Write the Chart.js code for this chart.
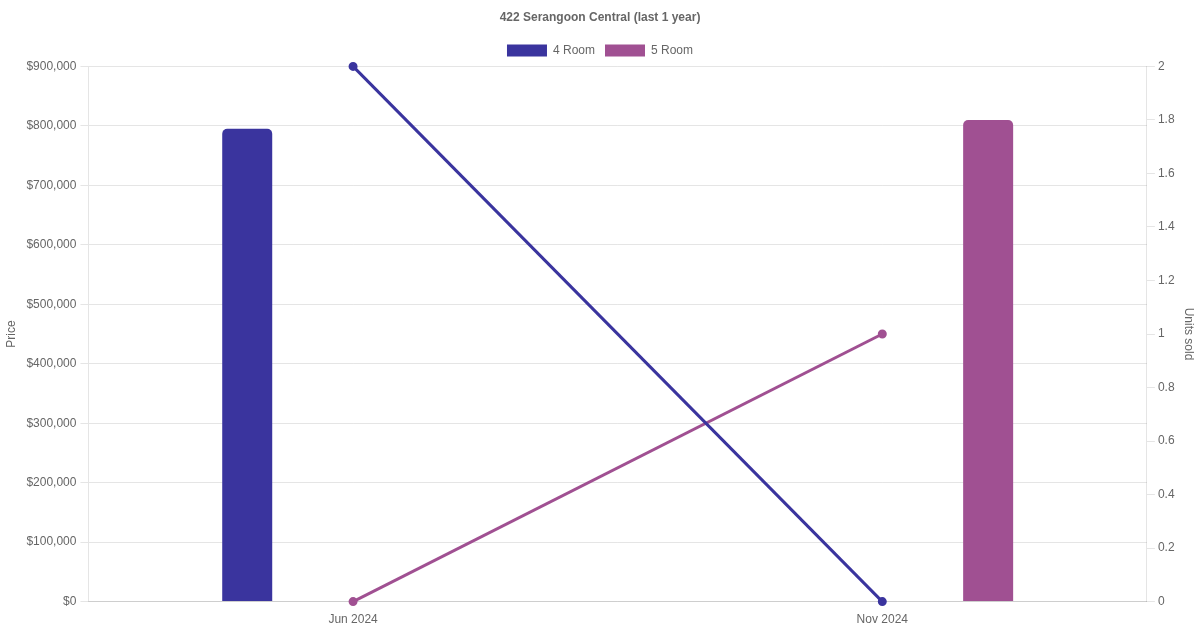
<!DOCTYPE html>
<html>
<head>
<meta charset="utf-8">
<script src="https://cdn.jsdelivr.net/npm/chart.js@4"></script>
<style>
html,body{margin:0;padding:0;background:#fff;}
#wrap{width:1200px;height:630px;}
</style>
</head>
<body>
<div id="wrap"><canvas id="c" width="1200" height="630"></canvas></div>
<script>
const categories = ["Jun 2024", "Nov 2024"];
const price4Room = [795000, null];
const price5Room = [null, 810000];
const units4Room = [2, 0];
const units5Room = [0, 1];
const color4 = "#3A349E";
const color5 = "#A05092";

Chart.defaults.font.family = "'Liberation Sans', Arial, sans-serif";

new Chart(document.getElementById('c'), {
  type: 'bar',
  data: {
    labels: categories,
    datasets: [
      {type:'bar', label:'4 Room', data: price4Room, backgroundColor: color4, borderColor: color4, yAxisID:'y', maxBarThickness:50, borderRadius:5, order:2},
      {type:'bar', label:'5 Room', data: price5Room, backgroundColor: color5, borderColor: color5, yAxisID:'y', maxBarThickness:50, borderRadius:5, order:2},
      {type:'line', label:'4 Room units', data: units4Room, borderColor: color4, backgroundColor: color4, yAxisID:'y1', borderWidth:3, pointRadius:3, tension:0, order:1, clip:false},
      {type:'line', label:'5 Room units', data: units5Room, borderColor: color5, backgroundColor: color5, yAxisID:'y1', borderWidth:3, pointRadius:3, tension:0, order:1, clip:false}
    ]
  },
  options: {
    responsive: false,
    animation: false,
    plugins: {
      title: {display:true, text:'422 Serangoon Central (last 1 year)', color:'#666', font:{size:12, weight:'bold'}},
      legend: {labels:{color:'#666', filter: (item) => item.datasetIndex < 2}}
    },
    scales: {
      x: {grid:{display:false}, ticks:{color:'#666'}},
      y: {position:'left', min:0, max:900000, ticks:{stepSize:100000, padding:4, color:'#666', callback:(v)=>'$'+v.toLocaleString('en-US')},
          title:{display:true, text:'Price', color:'#666'}},
      y1: {position:'right', min:0, max:2, ticks:{stepSize:0.2, color:'#666', callback:(v)=>String(Math.round(v*10)/10)}, grid:{drawOnChartArea:false},
          title:{display:true, text:'Units sold', color:'#666'}}
    }
  }
});
</script>
</body>
</html>
